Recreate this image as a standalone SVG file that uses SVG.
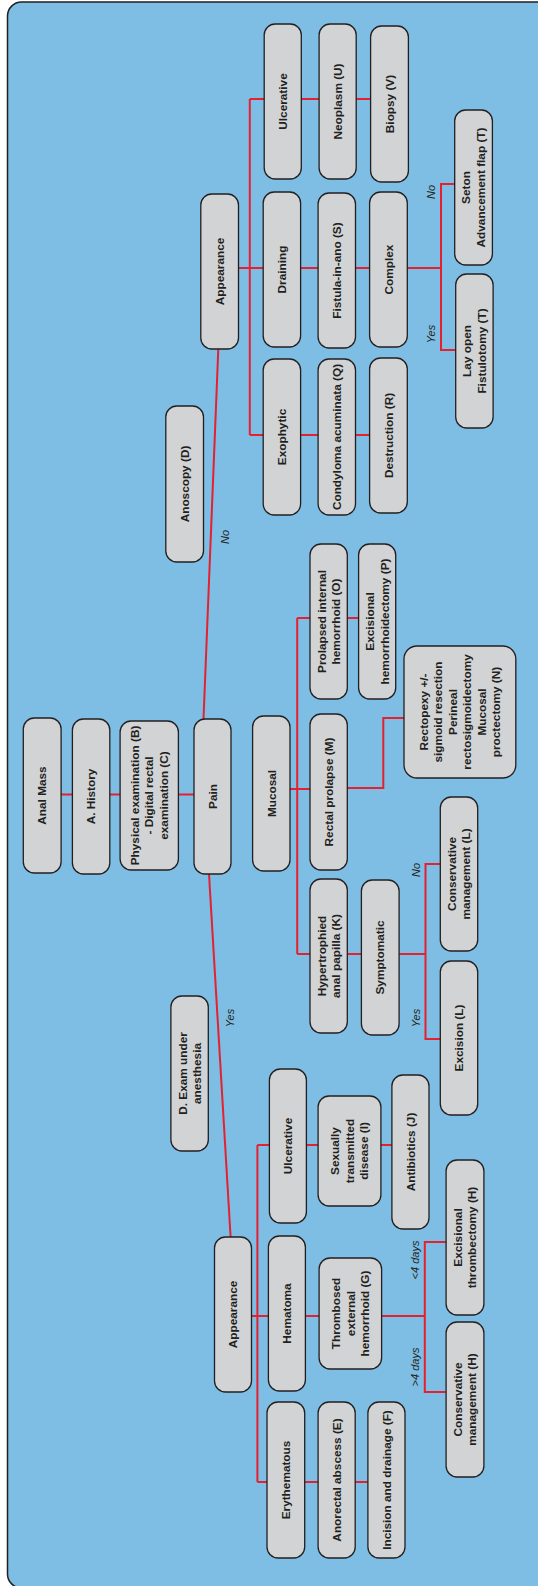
<svg xmlns="http://www.w3.org/2000/svg" width="538" height="1586" viewBox="0 0 538 1586">
  <style>
    .n rect { fill: #d1d3d4; stroke: #231f20; stroke-width: 1.3; }
    .n text { font-family: "Liberation Sans", Arial, sans-serif; font-weight: bold; font-size: 11.8px; fill: #231f20; text-anchor: middle; }
    .c { stroke: #e6212f; stroke-width: 2; fill: none; }
    .lbl { font-family: "Liberation Sans", Arial, sans-serif; font-style: italic; font-size: 11px; fill: #231f20; text-anchor: middle; }
  </style>

  <!-- panel -->
  <rect x="7.5" y="2" width="600" height="1586" rx="14" fill="#7ebde4" stroke="#231f20" stroke-width="1.5"/>

  <!-- connectors -->
  <g id="connectors">
    <!-- trunk -->
    <path class="c" d="M218.3 349 L203.5 719"/>
    <path class="c" d="M61 794.5 H72.5 M110 794.5 H120 M178.5 794.5 H194"/>
    <path class="c" d="M209 874 L230.6 1237"/>
    <!-- upper appearance branch -->
    <path class="c" d="M238.5 268 H249.8 M249.8 99 V435"/>
    <path class="c" d="M249.8 99 H264 M301.3 99 H319 M356 99 H370.6"/>
    <path class="c" d="M249.8 268 H263.2 M300.6 268 H318 M355.5 268 H369.6 M407.3 268 H441"/>
    <path class="c" d="M455 184 H441 V350 H456"/>
    <path class="c" d="M249.8 435 H263.2 M300.6 435 H318 M355.5 435 H369.6"/>
    <!-- mucosal branch -->
    <path class="c" d="M290 789 H297.2 M297.2 618 V954"/>
    <path class="c" d="M297.2 618 H310 M347.3 618 H358.6"/>
    <path class="c" d="M297.2 789 H310 M347.3 788 H383.3 V718 H404"/>
    <path class="c" d="M297.2 954 H310 M347.3 954 H361.4 M399.1 954 H425.5"/>
    <path class="c" d="M440.3 864 H425.5 V1039 H440.3"/>
    <!-- lower appearance branch -->
    <path class="c" d="M251.5 1316 H257.4 M257.4 1145 V1482"/>
    <path class="c" d="M257.4 1145 H269.4 M306.4 1145 H318.1 M380.9 1145 H391.9"/>
    <path class="c" d="M257.4 1316 H268.4 M305.4 1316 H319.1 M381.6 1316 H424.8"/>
    <path class="c" d="M446.1 1242 H424.8 V1392 H446.1"/>
    <path class="c" d="M257.4 1482 H267 M304.7 1482 H318.1 M355.2 1482 H367.9"/>
  </g>

  <!-- branch labels -->
  <g id="labels">
    <text class="lbl" transform="translate(224.8 537) rotate(-90)" y="4">No</text>
    <text class="lbl" transform="translate(230 1018) rotate(-90)" y="4">Yes</text>
    <text class="lbl" transform="translate(430.7 192) rotate(-90)" y="4">No</text>
    <text class="lbl" transform="translate(430.7 334) rotate(-90)" y="4">Yes</text>
    <text class="lbl" transform="translate(416.3 870) rotate(-90)" y="4">No</text>
    <text class="lbl" transform="translate(416.3 1018) rotate(-90)" y="4">Yes</text>
    <text class="lbl" transform="translate(415.2 1260) rotate(-90)" y="4">&lt;4 days</text>
    <text class="lbl" transform="translate(415.2 1367) rotate(-90)" y="4">&gt;4 days</text>
  </g>

  <!-- nodes -->
  <g id="anal-mass" class="n"><rect x="23.3" y="718" width="37.8" height="155" rx="11"/>
    <text transform="translate(42.2 795.5) rotate(-90)"><tspan x="0" y="4.2">Anal Mass</tspan></text></g>
  <g id="history" class="n"><rect x="72.4" y="719" width="37.4" height="155" rx="11"/>
    <text transform="translate(91.1 796.5) rotate(-90)"><tspan x="0" y="4.2">A. History</tspan></text></g>
  <g id="physical-exam" class="n"><rect x="120.1" y="721" width="58.3" height="149" rx="11"/>
    <text transform="translate(149.2 795.5) rotate(-90)"><tspan x="0" y="-10.3">Physical examination (B)</tspan><tspan x="0" y="4.2">- Digital rectal</tspan><tspan x="0" y="18.7">examination (C)</tspan></text></g>
  <g id="pain" class="n"><rect x="194" y="719" width="37" height="155" rx="11"/>
    <text transform="translate(212.5 796.5) rotate(-90)"><tspan x="0" y="4.2">Pain</tspan></text></g>

  <g id="anoscopy" class="n"><rect x="165.8" y="406" width="37.7" height="156" rx="11"/>
    <text transform="translate(184.6 484) rotate(-90)"><tspan x="0" y="4.2">Anoscopy (D)</tspan></text></g>
  <g id="exam-anesthesia" class="n"><rect x="170.9" y="996" width="37.4" height="155" rx="11"/>
    <text transform="translate(189.6 1073.5) rotate(-90)"><tspan x="0" y="-3.05">D. Exam under</tspan><tspan x="0" y="11.45">anesthesia</tspan></text></g>

  <!-- anoscopy side -->
  <g id="appearance-d" class="n"><rect x="200.8" y="194" width="37.7" height="155" rx="11"/>
    <text transform="translate(219.6 271.5) rotate(-90)"><tspan x="0" y="4.2">Appearance</tspan></text></g>
  <g id="ulcerative-d" class="n"><rect x="264.2" y="24" width="37.1" height="155" rx="11"/>
    <text transform="translate(282.7 101.5) rotate(-90)"><tspan x="0" y="4.2">Ulcerative</tspan></text></g>
  <g id="neoplasm" class="n"><rect x="319.1" y="24" width="37.1" height="155" rx="11"/>
    <text transform="translate(337.6 101.5) rotate(-90)"><tspan x="0" y="4.2">Neoplasm (U)</tspan></text></g>
  <g id="biopsy" class="n"><rect x="370.6" y="26" width="37.8" height="156" rx="11"/>
    <text transform="translate(389.5 104) rotate(-90)"><tspan x="0" y="4.2">Biopsy (V)</tspan></text></g>
  <g id="draining" class="n"><rect x="263.2" y="192" width="37.4" height="155" rx="11"/>
    <text transform="translate(281.9 269.5) rotate(-90)"><tspan x="0" y="4.2">Draining</tspan></text></g>
  <g id="fistula" class="n"><rect x="318.1" y="193" width="37.4" height="155" rx="11"/>
    <text transform="translate(336.8 270.5) rotate(-90)"><tspan x="0" y="4.2">Fistula-in-ano (S)</tspan></text></g>
  <g id="complex" class="n"><rect x="369.6" y="192" width="37.7" height="155" rx="11"/>
    <text transform="translate(388.4 269.5) rotate(-90)"><tspan x="0" y="4.2">Complex</tspan></text></g>
  <g id="seton" class="n"><rect x="454.7" y="110" width="37.7" height="155" rx="11"/>
    <text transform="translate(473.5 187.5) rotate(-90)"><tspan x="0" y="-3.05">Seton</tspan><tspan x="0" y="11.45">Advancement flap (T)</tspan></text></g>
  <g id="lay-open" class="n"><rect x="455.7" y="274" width="37.4" height="154" rx="11"/>
    <text transform="translate(474.4 351) rotate(-90)"><tspan x="0" y="-3.05">Lay open</tspan><tspan x="0" y="11.45">Fistulotomy (T)</tspan></text></g>
  <g id="exophytic" class="n"><rect x="263.2" y="359" width="37.4" height="156" rx="11"/>
    <text transform="translate(281.9 437) rotate(-90)"><tspan x="0" y="4.2">Exophytic</tspan></text></g>
  <g id="condyloma" class="n"><rect x="318.1" y="359" width="37.4" height="156" rx="11"/>
    <text transform="translate(336.8 437) rotate(-90)"><tspan x="0" y="4.2">Condyloma acuminata (Q)</tspan></text></g>
  <g id="destruction" class="n"><rect x="369.6" y="358" width="37.7" height="155" rx="11"/>
    <text transform="translate(388.4 435.5) rotate(-90)"><tspan x="0" y="4.2">Destruction (R)</tspan></text></g>

  <!-- mucosal side -->
  <g id="mucosal" class="n"><rect x="252.6" y="716" width="37.4" height="155" rx="11"/>
    <text transform="translate(271.3 793.5) rotate(-90)"><tspan x="0" y="4.2">Mucosal</tspan></text></g>
  <g id="prolapsed-hemorrhoid" class="n"><rect x="310" y="544" width="37.3" height="155" rx="11"/>
    <text transform="translate(328.6 621.5) rotate(-90)"><tspan x="0" y="-3.05">Prolapsed internal</tspan><tspan x="0" y="11.45">hemorrhoid (O)</tspan></text></g>
  <g id="hemorrhoidectomy" class="n"><rect x="358.6" y="544" width="37.1" height="155" rx="11"/>
    <text transform="translate(377.1 621.5) rotate(-90)"><tspan x="0" y="-3.05">Excisional</tspan><tspan x="0" y="11.45">hemorrhoidectomy (P)</tspan></text></g>
  <g id="rectal-prolapse" class="n"><rect x="310" y="714" width="37.3" height="156" rx="11"/>
    <text transform="translate(328.6 792) rotate(-90)"><tspan x="0" y="4.2">Rectal prolapse (M)</tspan></text></g>
  <g id="rectopexy" class="n"><rect x="404" y="646" width="111.8" height="132" rx="13"/>
    <text transform="translate(459.9 712) rotate(-90)"><tspan x="0" y="-32.05">Rectopexy +/-</tspan><tspan x="0" y="-17.55">sigmoid resection</tspan><tspan x="0" y="-3.05">Perineal</tspan><tspan x="0" y="11.45">rectosigmoidectomy</tspan><tspan x="0" y="25.95">Mucosal</tspan><tspan x="0" y="40.45">proctectomy (N)</tspan></text></g>
  <g id="papilla" class="n"><rect x="310" y="879" width="37.3" height="154" rx="11"/>
    <text transform="translate(328.6 956) rotate(-90)"><tspan x="0" y="-3.05">Hypertrophied</tspan><tspan x="0" y="11.45">anal papilla (K)</tspan></text></g>
  <g id="symptomatic" class="n"><rect x="361.4" y="880" width="37.7" height="155" rx="11"/>
    <text transform="translate(380.2 957.5) rotate(-90)"><tspan x="0" y="4.2">Symptomatic</tspan></text></g>
  <g id="conservative-l" class="n"><rect x="440.3" y="797" width="37.4" height="154" rx="11"/>
    <text transform="translate(459 874) rotate(-90)"><tspan x="0" y="-3.05">Conservative</tspan><tspan x="0" y="11.45">management (L)</tspan></text></g>
  <g id="excision-l" class="n"><rect x="440.3" y="961" width="37.4" height="154" rx="11"/>
    <text transform="translate(459 1038) rotate(-90)"><tspan x="0" y="4.2">Excision (L)</tspan></text></g>

  <!-- pain side -->
  <g id="appearance-p" class="n"><rect x="214.5" y="1237" width="37" height="155" rx="11"/>
    <text transform="translate(233 1314.5) rotate(-90)"><tspan x="0" y="4.2">Appearance</tspan></text></g>
  <g id="ulcerative-p" class="n"><rect x="269.4" y="1069" width="37" height="154" rx="11"/>
    <text transform="translate(287.9 1146) rotate(-90)"><tspan x="0" y="4.2">Ulcerative</tspan></text></g>
  <g id="std" class="n"><rect x="318.1" y="1096" width="62.8" height="110" rx="11"/>
    <text transform="translate(349.5 1151) rotate(-90)"><tspan x="0" y="-10.3">Sexually</tspan><tspan x="0" y="4.2">transmitted</tspan><tspan x="0" y="18.7">disease (I)</tspan></text></g>
  <g id="antibiotics" class="n"><rect x="391.9" y="1075" width="37.1" height="154" rx="11"/>
    <text transform="translate(410.5 1152) rotate(-90)"><tspan x="0" y="4.2">Antibiotics (J)</tspan></text></g>
  <g id="hematoma" class="n"><rect x="268.4" y="1236" width="37" height="155" rx="11"/>
    <text transform="translate(286.9 1313.5) rotate(-90)"><tspan x="0" y="4.2">Hematoma</tspan></text></g>
  <g id="thrombosed" class="n"><rect x="319.1" y="1258" width="62.5" height="111" rx="11"/>
    <text transform="translate(350.4 1313.5) rotate(-90)"><tspan x="0" y="-10.3">Thrombosed</tspan><tspan x="0" y="4.2">external</tspan><tspan x="0" y="18.7">hemorrhoid (G)</tspan></text></g>
  <g id="thrombectomy" class="n"><rect x="446.1" y="1160" width="37.8" height="155" rx="11"/>
    <text transform="translate(465 1237.5) rotate(-90)"><tspan x="0" y="-3.05">Excisional</tspan><tspan x="0" y="11.45">thrombectomy (H)</tspan></text></g>
  <g id="conservative-h" class="n"><rect x="446.1" y="1322" width="37.8" height="155" rx="11"/>
    <text transform="translate(465 1399.5) rotate(-90)"><tspan x="0" y="-3.05">Conservative</tspan><tspan x="0" y="11.45">management (H)</tspan></text></g>
  <g id="erythematous" class="n"><rect x="267" y="1402" width="37.7" height="156" rx="11"/>
    <text transform="translate(285.9 1480) rotate(-90)"><tspan x="0" y="4.2">Erythematous</tspan></text></g>
  <g id="abscess" class="n"><rect x="318.1" y="1402" width="37.1" height="156" rx="11"/>
    <text transform="translate(336.7 1480) rotate(-90)"><tspan x="0" y="4.2">Anorectal abscess (E)</tspan></text></g>
  <g id="drainage" class="n"><rect x="367.9" y="1402" width="37.1" height="156" rx="11"/>
    <text transform="translate(386.5 1480) rotate(-90)"><tspan x="0" y="4.2">Incision and drainage (F)</tspan></text></g>
</svg>
